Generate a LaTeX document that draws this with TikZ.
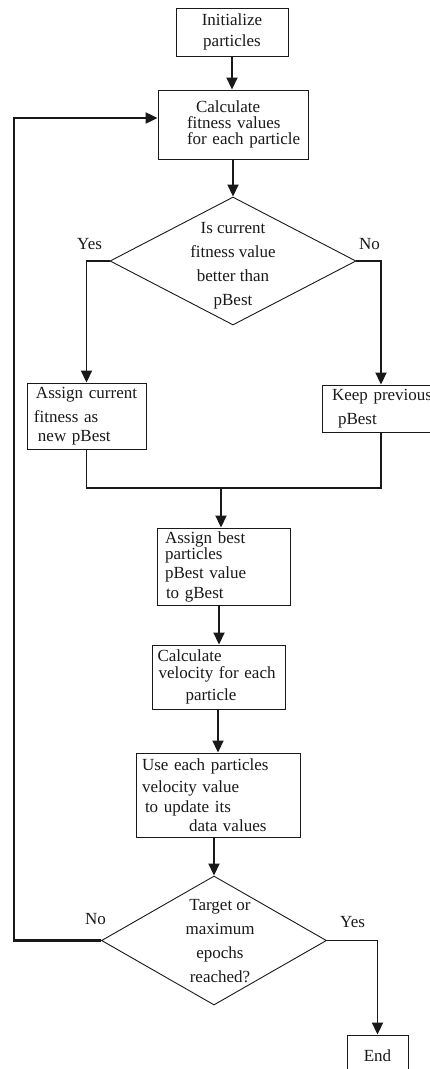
\documentclass[tikz,border=0pt]{standalone}
\usepackage{fontspec}
\setmainfont{Liberation Serif}
\usepackage{tikz}
\usetikzlibrary{shapes.geometric, arrows.meta, positioning, calc}
\definecolor{ink}{RGB}{25, 25, 25}
\tikzset{
  box/.style={draw=ink, line width=0.9pt, inner sep=0pt, align=left, text=ink, font=\fontsize{17}{21}\selectfont},
  decision/.style={diamond, draw=ink, line width=0.9pt, inner sep=0pt, text=ink, font=\fontsize{17}{24}\selectfont},
  tag/.style={inner sep=0pt, text=ink, font=\fontsize{17}{21}\selectfont},
  flow/.style={draw=ink, line width=1.8pt, -{Triangle[length=12pt, width=11pt]}},
  joinline/.style={draw=ink, line width=1.1pt},
  loopback/.style={draw=ink, line width=2.2pt, -{Triangle[length=12pt, width=11pt]}}
}

\begin{document}
\begin{tikzpicture}[x=1pt, y=-1pt]
  \useasboundingbox (0,0) rectangle (430,1069);
  \clip (0,0) rectangle (430,1069);

  \node[box, align=center, text width=112pt, minimum height=48pt] (init) at (232,32) {Initialize\\particles};
  \node[box, text width=150pt, minimum height=69pt, font=\fontsize{17}{16}\selectfont] (fitness) at (233,124.5) {\hspace*{38pt}Calculate\\\hspace*{29pt}fitness values\\\hspace*{29pt}for each particle};
  \node[decision, minimum width=246pt, minimum height=128pt] (better) at (233,261) {\makebox[0pt]{\smash{\raisebox{-8pt}{\begin{tabular}{@{}c@{}}Is current\\fitness value\\better than\\pBest\end{tabular}}}}};
  \node[box, text width=119pt, minimum height=66pt] (assign) at (86.5,416) {\hspace*{9pt}Assign current\\[3pt]\hspace*{7pt}fitness as\\[-2pt]\hspace*{11pt}new pBest};
  \node[box, text width=118pt, minimum height=47pt] (keep) at (381,408.5) {\hspace*{10pt}Keep previous\\[3pt]\hspace*{16pt}pBest};
  \coordinate (merge) at (221,488);
  \node[box, text width=133pt, minimum height=77pt, font=\fontsize{17}{20}\selectfont] (gbest) at (223.5,566.5) {\hspace*{8pt}Assign best\\[-4pt]\hspace*{8pt}particles\\[-1pt]\hspace*{8pt}pBest value\\\hspace*{9pt}to gBest};
  \node[box, text width=133pt, minimum height=64pt] (velocity) at (219,677) {\hspace*{5pt}Calculate\\[-4pt]\hspace*{6pt}velocity for each\\[1pt]\hspace*{33pt}particle};
  \node[box, text width=164pt, minimum height=84pt, font=\fontsize{17}{20}\selectfont] (update) at (218,795) {\hspace*{6pt}Use each particles\\[2pt]\hspace*{6pt}velocity value\\\hspace*{9pt}to update its\\[-1pt]\hspace*{53pt}data values};
  \node[decision, minimum width=225pt, minimum height=129pt] (target) at (214,940.5) {\makebox[0pt]{\hspace{12pt}\smash{\raisebox{-6pt}{\begin{tabular}{@{}c@{}}Target or\\maximum\\epochs\\reached?\end{tabular}}}}};
  \node[box, align=center, text width=61pt, minimum height=42pt] (finish) at (377.5,1056) {End};

  \node[tag, anchor=base west] (yesbetter) at (77,249) {Yes};
  \node[tag, anchor=base west] (nobetter) at (359,249) {No};
  \node[tag, anchor=base west] (notarget) at (85,924) {No};
  \node[tag, anchor=base west] (yestarget) at (340,927) {Yes};

  \draw[flow] (init.south) -- (init.south |- fitness.north);
  \draw[flow] (fitness.south) -- (better.north);
  \draw[flow] (better.west) -| (assign.north);
  \draw[flow] (better.east) -| (keep.north);
  \draw[joinline] (assign.south) |- (merge) -| (keep.south);
  \draw[flow] (merge) -- (merge |- gbest.north);
  \draw[flow] (velocity.north |- gbest.south) -- (velocity.north);
  \draw[flow] (update.north |- velocity.south) -- (update.north);
  \draw[flow] (target.north |- update.south) -- (target.north);
  \draw[flow] (target.east) -| (finish.north);
  \coordinate (corner) at (14,118);
  \draw[loopback] (target.west) -| (corner) -- (corner -| fitness.west);
\end{tikzpicture}
\end{document}
